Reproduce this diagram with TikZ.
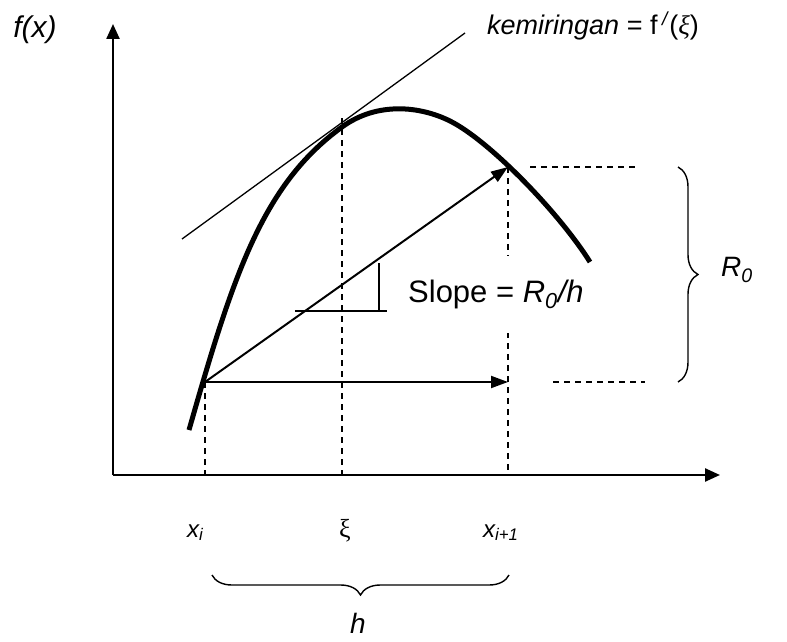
\documentclass[tikz,border=0pt]{standalone}
\usepackage{fontspec}
\setmainfont{Liberation Sans}
\newfontfamily\grk{Liberation Serif}
\usetikzlibrary{arrows.meta,decorations.pathreplacing}
\begin{document}
\begin{tikzpicture}[x=1pt,y=-1pt,
  axis/.style={line width=2.4pt,-{Triangle[length=15pt,width=13pt]}},
  fcurve/.style={line width=5pt},
  arr/.style={line width=2pt,-{Triangle[length=17pt,width=12pt]}},
  guide/.style={line width=1.4pt,dash pattern=on 6pt off 5pt},
  thinline/.style={line width=1.3pt},
  lbl/.style={inner sep=0pt},
  brc/.style={line width=1.4pt,decorate,decoration={brace,amplitude=20pt}}]
\useasboundingbox (0,0) rectangle (787,642);
% key points
\coordinate (O) at (113,475);
\coordinate (ytip) at (113,24);
\coordinate (xtip) at (720,475);
\coordinate (xi) at (205,382);
\coordinate (xip) at (508,167);
\coordinate (xiend) at (508,382);
\coordinate (tp) at (342,118);
\coordinate (xib) at (205,475);
\coordinate (tpb) at (342,475);
\coordinate (xipb) at (508,475);
\coordinate (c0) at (189,430);
\coordinate (ctp) at (342,127);
\coordinate (cmid) at (450,121);
\coordinate (cend) at (590,262);
% guides
\draw[guide] (tp) -- (tpb);
\draw[guide] (xi) -- (xib);
\draw[guide] (xip) -- (xipb);
\draw[guide] (530,167) coordinate (ua) -- (637,167) coordinate (ub);
\draw[guide] (553,382) coordinate (la) -- (645,382) coordinate (lb);
% slope label (white box hides part of the guide)
\node[anchor=base west,fill=white,inner xsep=2pt,inner ysep=24pt,
      font=\fontsize{31}{31}\selectfont] (slope) at (406,302) {Slope = \textit{R\textsubscript{0}/h}};
% axes
\draw[axis] (O) -- (ytip);
\draw[axis] (O) -- (xtip);
% tangent
\draw[thinline] (182,239) coordinate (ta) -- (465,33) coordinate (tb);
% slope triangle
\draw[thinline] (295,311) coordinate (sa) -- (387,311) coordinate (sb);
\draw[thinline] (379,263) coordinate (sc) -- (379,311) coordinate (sd);
% arrows
\draw[arr] (xi) -- (xiend);
\draw[arr] (xi) -- (xip);
% curve
\draw[fcurve] (c0) .. controls (233,276) and (262,185) .. (ctp)
  .. controls (377,101.5) and (420,106) .. (cmid)
  .. controls (490,141) and (560,214) .. (cend);
% braces
\draw[brc] (678,167) -- (678,382);
\draw[brc] (509,575) -- (212,575);
% labels
\node[lbl,font=\fontsize{30}{30}\selectfont\itshape] (fx) at (35,30) {f(x)};
\node[lbl,anchor=base west,font=\fontsize{27}{27}\selectfont] (kem) at (487,35) {\textit{kemiringan} = f\,\textsuperscript{\textit{/}}({\grk\itshape ξ})};
\node[lbl,font=\fontsize{28}{28}\selectfont\itshape] (r0) at (737,270) {R\textsubscript{0}};
\node[lbl,anchor=base west,font=\fontsize{24}{24}\selectfont\itshape] (lxi) at (187,537) {x\textsubscript{i}};
\node[lbl,anchor=base,font=\fontsize{26}{26}\selectfont\grk] (lxs) at (345,537) {ξ};
\node[lbl,anchor=base west,font=\fontsize{24}{24}\selectfont\itshape] (lxip) at (483,537) {x\textsubscript{i+1}};
\node[lbl,anchor=base,font=\fontsize{28}{28}\selectfont\itshape] (lh) at (358,633) {h};
\end{tikzpicture}
\end{document}
